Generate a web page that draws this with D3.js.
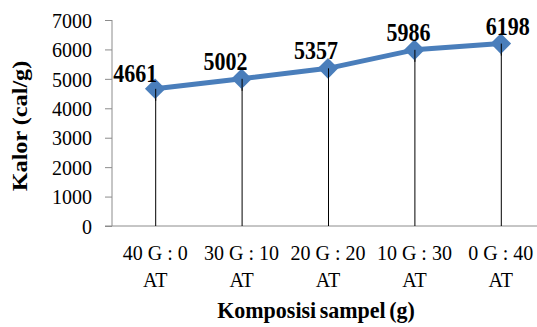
<!DOCTYPE html>
<html>
<head>
<meta charset="utf-8">
<script src="https://cdn.jsdelivr.net/npm/d3@7"></script>
<style>
  html, body { margin: 0; padding: 0; background: #fff; }
  svg { display: block; }
  text { font-family: "Liberation Serif", "Times New Roman", serif; fill: #000; }
</style>
</head>
<body>
<svg id="chart" width="537" height="327"></svg>
<script>
// Heat value per sample composition
const categories = ["40 G : 0 AT", "30 G : 10 AT", "20 G : 20 AT", "10 G : 30 AT", "0 G : 40 AT"];
const categoryLines = [["40 G : 0", "AT"], ["30 G : 10", "AT"], ["20 G : 20", "AT"], ["10 G : 30", "AT"], ["0 G : 40", "AT"]];
const kalor = [4661, 5002, 5357, 5986, 6198];
const yTicks = [0, 1000, 2000, 3000, 4000, 5000, 6000, 7000];

// Label placement relative to each point (dx, dy in px)
const labelOffsets = [[-20, -7], [-16, -9], [-12, -9], [-6, -9], [7, -9]];

const svg = d3.select("#chart");
const plot = { left: 112, right: 544, top: 20, bottom: 226 };

const x = d3.scaleBand().domain(categories).range([plot.left, plot.right]);
const y = d3.scaleLinear().domain([0, 7000]).range([plot.bottom, plot.top]);
const cx = c => x(c) + x.bandwidth() / 2;

// Y axis
const yAxis = svg.append("g")
  .attr("transform", `translate(${plot.left},0)`)
  .call(d3.axisLeft(y).tickValues(yTicks).tickSize(7).tickPadding(13).tickFormat(d3.format("d")));
yAxis.select(".domain").attr("stroke", "#8c8c8c").attr("d", `M0,${plot.top}V${plot.bottom}`);
yAxis.selectAll(".tick line").attr("stroke", "#8c8c8c");
yAxis.selectAll(".tick text").style("font-size", "20px").attr("dy", "0.36em")
  .style("font-family", "'Liberation Serif', serif");

// X axis baseline
svg.append("line")
  .attr("x1", plot.left - 7).attr("x2", plot.right)
  .attr("y1", plot.bottom).attr("y2", plot.bottom)
  .attr("stroke", "#8c8c8c").attr("stroke-width", 1);

// Drop lines from each point to the axis
svg.append("g").selectAll("line")
  .data(kalor)
  .join("line")
  .attr("x1", (d, i) => cx(categories[i]) + 0.5)
  .attr("x2", (d, i) => cx(categories[i]) + 0.5)
  .attr("y1", d => y(d))
  .attr("y2", plot.bottom)
  .attr("stroke", "#000").attr("stroke-width", 1);

// Series line
const line = d3.line().x((d, i) => cx(categories[i])).y(d => y(d));
svg.append("path")
  .datum(kalor)
  .attr("d", line)
  .attr("fill", "none")
  .attr("stroke", "#4a7ebb")
  .attr("stroke-width", 5)
  .attr("stroke-linejoin", "round");

// Diamond markers
const diamond = d3.symbol().type(d3.symbolDiamond2).size(270);
svg.append("g").selectAll("path")
  .data(kalor)
  .join("path")
  .attr("d", diamond)
  .attr("transform", (d, i) => `translate(${cx(categories[i])},${y(d)})`)
  .attr("fill", "#4a7ebb");

// Drop line segment drawn over the marker's lower half
svg.append("g").selectAll("line")
  .data(kalor)
  .join("line")
  .attr("x1", (d, i) => cx(categories[i]) + 0.5)
  .attr("x2", (d, i) => cx(categories[i]) + 0.5)
  .attr("y1", d => y(d))
  .attr("y2", d => y(d) + 12)
  .attr("stroke", "#000").attr("stroke-width", 1);

// Value labels
svg.append("g").selectAll("text")
  .data(kalor)
  .join("text")
  .attr("transform", (d, i) =>
    `translate(${cx(categories[i]) + labelOffsets[i][0]},${y(d) + labelOffsets[i][1]}) scale(1,1.12)`)
  .attr("text-anchor", "middle")
  .style("font-size", "22px")
  .style("font-weight", "bold")
  .text(d => d);

// Category labels (two lines each)
svg.append("g").selectAll("g")
  .data(categoryLines)
  .join("g")
  .each(function (lines, i) {
    d3.select(this).selectAll("text")
      .data(lines)
      .join("text")
      .attr("transform", (t, j) => `translate(${cx(categories[i])},${j === 0 ? 260 : 287}) scale(1,1.05)`)
      .attr("text-anchor", "middle")
      .style("font-size", "20px")
      .text(t => t);
  });

// Axis titles
svg.append("text")
  .attr("transform", "translate(316,318) scale(1,1.05)")
  .attr("text-anchor", "middle")
  .style("font-size", "22px").style("font-weight", "bold")
  .style("word-spacing", "-2px")
  .text("Komposisi sampel (g)");

svg.append("text")
  .attr("transform", "translate(27,126) rotate(-90) scale(1.1,1)")
  .attr("text-anchor", "middle")
  .style("font-size", "22px").style("font-weight", "bold")
  .text("Kalor (cal/g)");
</script>
</body>
</html>
